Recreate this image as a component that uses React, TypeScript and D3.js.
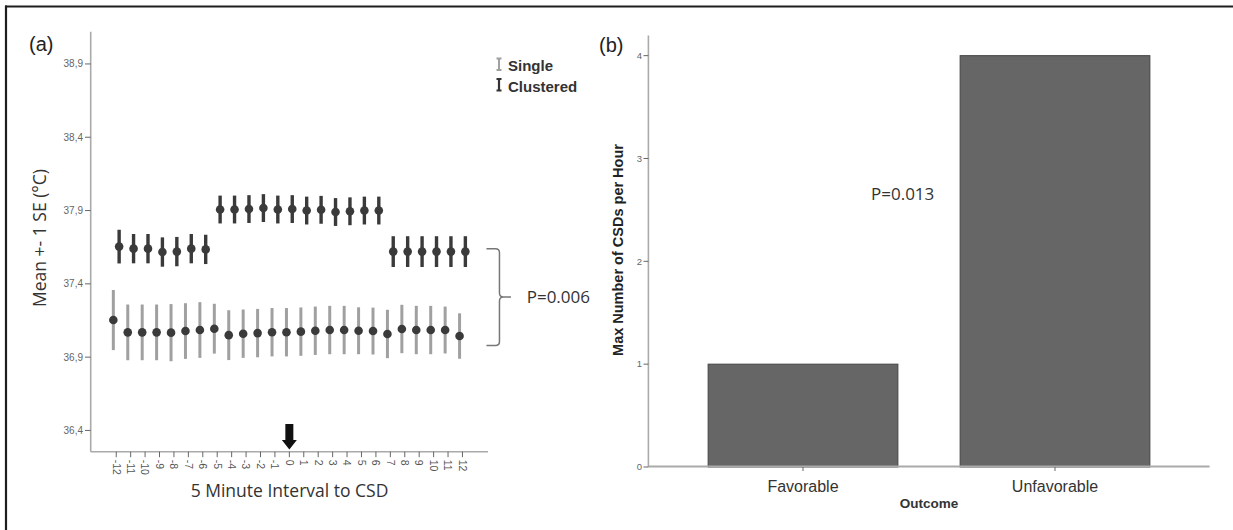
import React from 'react';
import * as d3 from 'd3';

// panel (a): 5 minute intervals around the CSD
const intervals = [-12, -11, -10, -9, -8, -7, -6, -5, -4, -3, -2, -1, 0, 1, 2, 3, 4, 5, 6, 7, 8, 9, 10, 11, 12];
const singleMean = [37.153, 37.069, 37.069, 37.069, 37.067, 37.078, 37.085, 37.094, 37.05, 37.06, 37.064, 37.07, 37.07,
  37.074, 37.08, 37.085, 37.085, 37.08, 37.078, 37.058, 37.092, 37.085, 37.085, 37.085, 37.044];
const singleSE = [0.205, 0.19, 0.19, 0.19, 0.195, 0.19, 0.19, 0.17, 0.17, 0.165, 0.165, 0.165, 0.165,
  0.165, 0.165, 0.165, 0.165, 0.16, 0.16, 0.165, 0.165, 0.165, 0.165, 0.16, 0.155];
const clusteredMean = [37.654, 37.64, 37.64, 37.617, 37.62, 37.64, 37.635, 37.907, 37.907, 37.91, 37.917, 37.907, 37.91,
  37.9, 37.905, 37.89, 37.895, 37.9, 37.9, 37.62, 37.62, 37.62, 37.62, 37.62, 37.62];
const clusteredSE = [0.115, 0.1, 0.1, 0.1, 0.1, 0.1, 0.1, 0.095, 0.095, 0.095, 0.095, 0.095, 0.095,
  0.095, 0.095, 0.095, 0.095, 0.095, 0.095, 0.105, 0.105, 0.105, 0.105, 0.105, 0.105];
const tempTicks = [36.4, 36.9, 37.4, 37.9, 38.4, 38.9];
const bracketRange = [36.98, 37.64];

// panel (b)
const outcomes = ['Favorable', 'Unfavorable'];
const maxCSDs = [1, 4];
const countTicks = [0, 1, 2, 3, 4];

const FONT = '"Open Sans", "Liberation Sans", Arial, sans-serif';
const ARIAL = '"Liberation Sans", Arial, sans-serif';

const PanelA = () => {
  const x = d3.scalePoint<number>().domain(intervals).range([90.7, 488]).padding(1.77);
  const y = d3.scaleLinear().domain([36.255, 39.12]).range([451.7, 31.7]);
  const dodge = 2.9;
  const fmt = (v: number) => d3.format('.1f')(v).replace('.', ',');

  const yTop = y(bracketRange[1]);
  const yBot = y(bracketRange[0]);
  const yMid = (yTop + yBot) / 2;
  const bx = x(12)! + 24;
  const ax = x(0)!;

  return (
    <g>
      <text x={29} y={51} fontFamily={ARIAL} fontSize={20} fill="#222">(a)</text>

      {/* axes */}
      <line x1={90.7} x2={90.7} y1={31.7} y2={451.7} stroke="#aaa" strokeWidth={1.6} />
      <line x1={90.7} x2={488} y1={451.7} y2={451.7} stroke="#aaa" strokeWidth={1.6} />
      {tempTicks.map(t => (
        <g key={t} transform={`translate(0,${y(t)})`}>
          <line x1={85} x2={90.7} stroke="#666" strokeWidth={1} />
          <text x={83} dy="0.35em" textAnchor="end" fontFamily={ARIAL} fontSize={10} fill="#666">{fmt(t)}</text>
        </g>
      ))}
      {intervals.map(k => (
        <g key={k} transform={`translate(${x(k)},451.7)`}>
          <line y1={0} y2={5.5} stroke="#666" strokeWidth={1} />
          <text transform="translate(0,8) rotate(90)" dy="0.35em" fontFamily={ARIAL} fontSize={10.5} fill="#555">{k}</text>
        </g>
      ))}

      <text transform="translate(46,238) rotate(-90)" textAnchor="middle" fontFamily={FONT} fontSize={17.5} fill="#333">Mean +- 1 SE (°C)</text>
      <text x={289.5} y={497} textAnchor="middle" fontFamily={FONT} fontSize={17.5} fill="#333">5 Minute Interval to CSD</text>

      {/* arrow at CSD */}
      <path d={`M${ax - 4},424 h8 v16 h3.5 l-7.5,9.5 l-7.5,-9.5 h3.5 z`} fill="#111" />

      {/* single */}
      {intervals.map((k, i) => (
        <g key={'s' + k}>
          <line x1={x(k)! - dodge} x2={x(k)! - dodge} y1={y(singleMean[i] - singleSE[i])} y2={y(singleMean[i] + singleSE[i])}
            stroke="#a0a0a0" strokeWidth={3} />
          <circle cx={x(k)! - dodge} cy={y(singleMean[i])} r={4.3} fill="#3a3a3a" />
        </g>
      ))}
      {/* clustered */}
      {intervals.map((k, i) => (
        <g key={'c' + k}>
          <line x1={x(k)! + dodge} x2={x(k)! + dodge} y1={y(clusteredMean[i] - clusteredSE[i])} y2={y(clusteredMean[i] + clusteredSE[i])}
            stroke="#3a3a3a" strokeWidth={3.4} />
          <circle cx={x(k)! + dodge} cy={y(clusteredMean[i])} r={4.3} fill="#3a3a3a" />
        </g>
      ))}

      {/* bracket */}
      <path d={`M${bx},${yTop} h9 q4,0 4,4 V${yMid - 4} q0,4 4,4 h7.5 M${bx + 17},${yMid} q-4,0 -4,4 V${yBot - 4} q0,4 -4,4 h-9`}
        fill="none" stroke="#777" strokeWidth={1.5} />
      <text x={526.7} y={yMid} dy="0.35em" fontFamily={FONT} fontSize={17} fill="#333">P=0.006</text>

      {/* legend */}
      <path d="M496.5,58.5 h5 M499,58.5 v11.5 M496.5,70 h5" stroke="#a0a0a0" strokeWidth={2} fill="none" />
      <text x={508} y={71} fontFamily={ARIAL} fontSize={15} fontWeight="bold" fill="#333">Single</text>
      <path d="M496.5,79 h5 M499,79 v11.5 M496.5,90.5 h5" stroke="#333" strokeWidth={2.2} fill="none" />
      <text x={508} y={91.5} fontFamily={ARIAL} fontSize={15} fontWeight="bold" fill="#333">Clustered</text>
    </g>
  );
};

const PanelB = () => {
  const x = d3.scaleBand<string>().domain(outcomes).range([648.4, 1209.6]).paddingInner(0.247).paddingOuter(0.237);
  const y = d3.scaleLinear().domain([0, 4.196]).range([467, 35.5]);

  return (
    <g>
      <text x={599} y={52} fontFamily={ARIAL} fontSize={20} fill="#222">(b)</text>

      {outcomes.map((o, i) => (
        <rect key={o} x={x(o)} y={y(maxCSDs[i])} width={x.bandwidth()} height={y(0) - y(maxCSDs[i])}
          fill="#666" stroke="#444" strokeWidth={1} />
      ))}

      <line x1={648.4} x2={648.4} y1={35.5} y2={467} stroke="#aaa" strokeWidth={1.6} />
      <line x1={648.4} x2={1209.6} y1={466.5} y2={466.5} stroke="#aaa" strokeWidth={1.8} />
      {countTicks.map(t => (
        <g key={t} transform={`translate(0,${y(t)})`}>
          <line x1={643.5} x2={648.4} stroke="#666" strokeWidth={1} />
          <text x={642} dy="0.35em" textAnchor="end" fontFamily={ARIAL} fontSize={9.5} fill="#666">{t}</text>
        </g>
      ))}
      {outcomes.map(o => (
        <g key={o} transform={`translate(${x(o)! + x.bandwidth() / 2},467)`}>
          <line y1={0} y2={4} stroke="#666" strokeWidth={1} />
          <text y={19} dy="0.35em" textAnchor="middle" fontFamily={ARIAL} fontSize={16} fill="#333">{o}</text>
        </g>
      ))}

      <text x={929} y={508} textAnchor="middle" fontFamily={ARIAL} fontSize={13.5} fontWeight="bold" fill="#333">Outcome</text>
      <text transform="translate(623,250) rotate(-90)" textAnchor="middle" fontFamily={ARIAL} fontSize={14.5} fontWeight="bold" fill="#222">Max Number of CSDs per Hour</text>
      <text x={871} y={194} dy="0.35em" fontFamily={FONT} fontSize={17} fill="#333">P=0.013</text>
    </g>
  );
};

export default function App() {
  return (
    <svg width={1233} height={530} style={{ position: 'absolute', left: 0, top: 0, background: '#fff' }}>
      <rect width={1233} height={530} fill="#fff" />
      <line x1={5} x2={1233} y1={6.5} y2={6.5} stroke="#1e1e1e" strokeWidth={2.2} />
      <line x1={6} x2={6} y1={5.5} y2={530} stroke="#1e1e1e" strokeWidth={2.2} />
      <PanelA />
      <PanelB />
    </svg>
  );
}
